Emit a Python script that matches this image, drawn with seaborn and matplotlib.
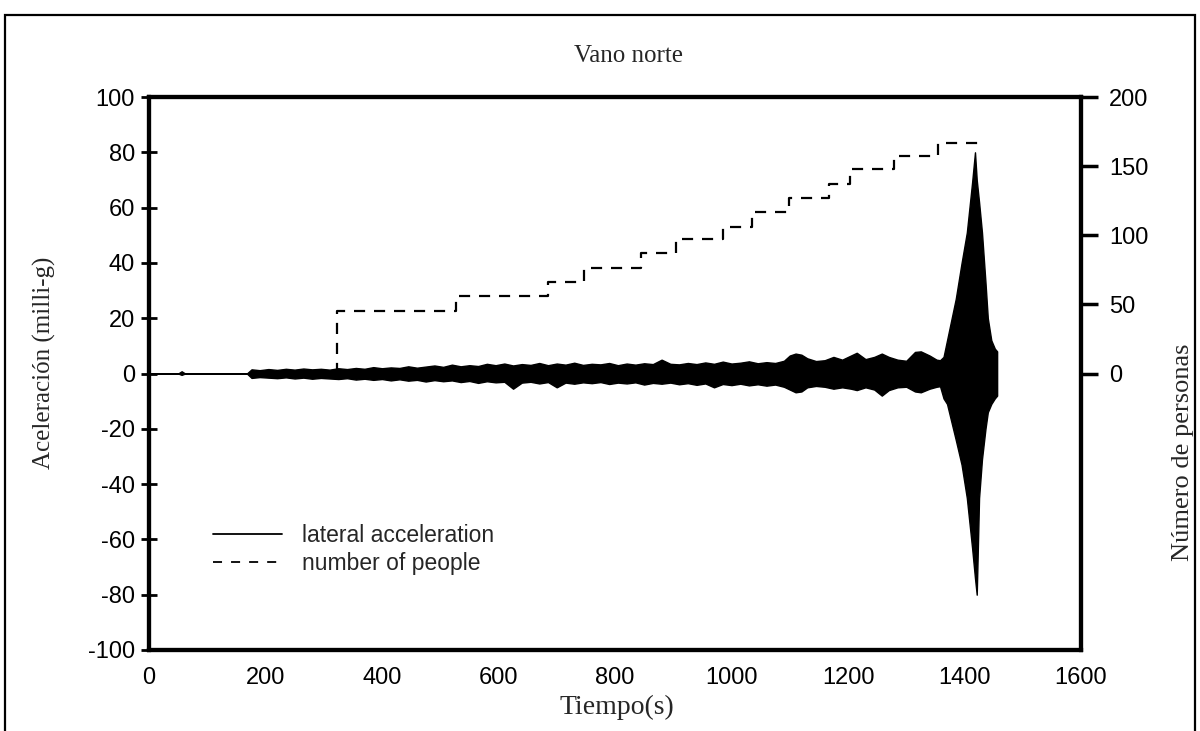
import numpy as np
import pandas as pd
import matplotlib
matplotlib.use("Agg")
import matplotlib.pyplot as plt
from matplotlib.lines import Line2D
from matplotlib.patches import Rectangle
import seaborn as sns

# ---- data ----
# Envelope of the lateral acceleration record (milli-g)
env_time = [0, 50, 56, 62,
            168, 176, 190, 205, 220, 235, 250, 265, 280, 295,
            310, 325, 340, 355, 370, 385, 400, 415, 430, 445,
            460, 475, 490, 505, 520, 535, 550, 565, 580, 595,
            610, 625, 640, 655, 670, 685, 700, 715, 730, 745,
            760, 775, 790, 805, 820, 835, 850, 865, 880, 895,
            910, 925, 940, 955, 970, 985, 1000, 1015, 1030, 1045,
            1060, 1075, 1090, 1100, 1110, 1120, 1130, 1145, 1160, 1175,
            1190, 1205, 1215, 1230, 1245, 1258, 1270, 1285, 1300, 1315,
            1325, 1340, 1352, 1358,
            1364, 1370, 1385, 1395, 1404, 1413, 1418, 1421, 1425, 1430,
            1436, 1440, 1446, 1452, 1456]
env_upper = [0, 0, 0.8, 0,
             0, 1.5, 1.2, 1.6, 1.3, 1.7, 1.4, 1.8, 1.5, 1.7,
             1.4, 1.9, 1.6, 2.0, 1.7, 2.3, 1.9, 2.2, 2.0, 2.6,
             2.1, 2.5, 2.9, 2.4, 3.2, 2.6, 3.0, 2.7, 3.5, 3.0,
             3.6, 2.9, 3.4, 3.1, 3.8, 3.0, 3.6, 3.2, 3.9, 3.1,
             3.5, 3.3, 3.8, 3.0, 3.6, 3.2, 3.7, 3.4, 5.0, 3.5,
             3.3, 3.8, 3.4, 4.0, 3.5, 4.3, 3.6, 3.9, 4.4, 3.7,
             4.1, 3.8, 4.6, 6.5, 7.2, 6.8, 5.5, 4.5, 4.8, 6.0,
             5.0, 6.5, 7.5, 5.2, 6.0, 7.2, 6.0, 5.0, 4.6, 7.8,
             8.0, 6.5, 5.0, 4.8,
             6, 12, 27, 40, 51, 69, 80, 70, 62, 51,
             33, 20, 12, 9, 8]
env_lower = [0, 0, -0.5, 0,
             0, -1.6, -1.3, -1.5, -1.7, -1.4, -1.8, -1.5, -1.9, -1.6,
             -1.8, -2.0, -1.7, -2.2, -1.9, -2.3, -2.0, -2.5, -2.1, -2.6,
             -2.3, -2.9, -2.4, -2.8, -2.5, -3.1, -2.7, -3.4, -2.8, -3.2,
             -3.0, -5.5, -3.3, -3.0, -3.6, -3.1, -5.0, -3.3, -3.7, -3.2,
             -3.5, -3.1, -3.8, -3.3, -3.6, -3.2, -4.0, -3.4, -3.7, -3.3,
             -3.9, -3.5, -4.1, -3.6, -5.0, -3.8, -4.2, -3.7, -4.3, -3.9,
             -4.4, -4.0, -4.8, -5.8, -6.8, -6.5, -5.0, -4.5, -4.8, -5.5,
             -5.0, -5.5, -6.0, -5.0, -5.8, -8.0, -6.0, -5.0, -4.8, -6.5,
             -6.8, -5.5, -4.8, -4.6,
             -9, -11, -24, -33, -45, -63, -74, -80, -45, -31,
             -20, -14, -11, -9, -8]

# Number of people on the span (step function)
people_time = [323, 323, 527, 685, 747, 845, 905, 985, 1035, 1099, 1167, 1203, 1279, 1354, 1425]
people_count = [0, 45, 56, 66, 76, 87, 97, 106, 117, 127, 137, 148, 157, 167, 167]

x_ticks = [0, 200, 400, 600, 800, 1000, 1200, 1400, 1600]
left_ticks = [-100, -80, -60, -40, -20, 0, 20, 40, 60, 80, 100]
right_ticks = [0, 50, 100, 150, 200]

title = "Vano norte"
xlabel = "Tiempo(s)"
ylabel_left = "Aceleración (milli-g)"
ylabel_right = "Número de personas"
legend_labels = ["lateral acceleration", "number of people"]

# ---- styling ----
sns.set_theme(style="white")
plt.rcParams["font.family"] = ["Liberation Sans", "DejaVu Sans"]
plt.rcParams["axes.unicode_minus"] = False

fig = plt.figure(figsize=(12, 7.31), dpi=100)
ax = fig.add_axes([149 / 1200, 1 - 650 / 731, (1081 - 149) / 1200, (650 - 97) / 731])

ax.fill_between(env_time, env_lower, env_upper, color="black", edgecolor="black", linewidth=1.0, zorder=3)

ax.set_xlim(0, 1600)
ax.set_ylim(-100, 100)
ax.set_xticks(x_ticks)
ax.set_yticks(left_ticks)
ax.tick_params(axis="both", labelsize=17, colors="black")
ax.tick_params(axis="y", direction="inout", length=12, width=2, pad=4)
ax.tick_params(axis="x", direction="inout", length=16, width=2, pad=4)
for s in ax.spines.values():
    s.set_linewidth(3)
    s.set_color("black")

ax2 = ax.twinx()
people_df = pd.DataFrame({"t": people_time, "n": people_count})
sns.lineplot(data=people_df, x="t", y="n", ax=ax2, color="black", linewidth=1.6,
             drawstyle="steps-post", linestyle=(0, (5, 4)), sort=False, estimator=None)
ax2.set_ylim(-200, 200)
ax2.set_yticks(right_ticks)
ax2.tick_params(axis="y", direction="out", length=12, width=2.5, labelsize=17, pad=8, colors="black")
ax2.set_xlabel("")
ax2.set_ylabel("")
for s in ax2.spines.values():
    s.set_linewidth(3)
    s.set_color("black")

serif = ["Liberation Serif", "DejaVu Serif"]
fig.text(628 / 1200, 1 - 56 / 731, title, family=serif, fontsize=18, ha="center", va="center")
fig.text(617 / 1200, 1 - 707 / 731, xlabel, family=serif, fontsize=20, ha="center", va="center")
fig.text(44 / 1200, 1 - 363 / 731, ylabel_left, family=serif, fontsize=18, rotation=90, ha="center", va="center")
fig.text(1183 / 1200, 1 - 452 / 731, ylabel_right, family=serif, fontsize=19, rotation=90, ha="center", va="center")

handles = [Line2D([], [], color="black", linewidth=1.3),
           Line2D([], [], color="black", linewidth=1.3, linestyle=(0, (5, 5)))]
leg = ax.legend(handles, legend_labels, loc="upper left", bbox_to_anchor=(0.047, 0.265),
                frameon=False, fontsize=16.5, handlelength=3.0, handletextpad=0.85, labelspacing=0.22)

fig.add_artist(Rectangle((5 / 1200, -0.1), 1190 / 1200, 1.1 - 15 / 731, transform=fig.transFigure,
                         fill=False, edgecolor="black", linewidth=1.6))

fig.savefig("out.png", dpi=100)
